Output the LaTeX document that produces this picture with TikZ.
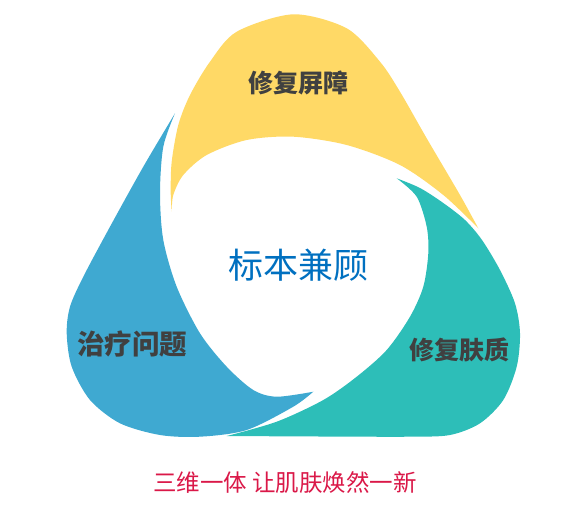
\documentclass[tikz,border=0pt]{standalone}
\usepackage{fontspec}
\newfontfamily\cjk{Noto Sans CJK SC}
\usepackage{tikz}
\definecolor{petalY}{RGB}{255,217,102}
\definecolor{petalT}{RGB}{45,190,184}
\definecolor{petalB}{RGB}{63,169,209}
\definecolor{labelgray}{RGB}{64,64,64}
\definecolor{centerblue}{RGB}{0,112,192}
\definecolor{captionred}{RGB}{218,24,72}
\tikzset{
  petal/.style={fill=#1, draw=none},
  plabel/.style={font=\cjk\bfseries\fontsize{#1}{#1}\selectfont, text=labelgray, inner sep=0pt},
  plabel/.default=25,
  clabel/.style={font=\cjk\fontsize{35}{35}\selectfont, text=centerblue, inner sep=0pt},
  caption/.style={font=\cjk\fontsize{23.5}{23.5}\selectfont, text=captionred, inner sep=0pt},
}

\begin{document}
\begin{tikzpicture}[x=1pt,y=-1pt]
  \useasboundingbox (0,0) rectangle (571,504);
  % top petal
  \fill[petal=petalY] plot[smooth] coordinates {(171.7,211.7) (170.7,191.7) (171.7,161.7) (178.3,125) (190,95) (210,61.7) (236.7,31.7) (293.3,14.3) (346.7,28.3) (380,61.7) (400,91.7) (426.7,138.3) (460,195) (478.3,228.3)}
    -- plot[smooth] coordinates {(478.3,228.3) (443.3,195) (400,165) (346.7,145) (293.3,136.7) (246.7,140) (206.7,155) (183.3,175) (173.3,195) (171.7,211.7)} -- cycle;
  % right petal
  \fill[petal=petalT] plot[smooth] coordinates {(396.7,178.3) (420,188) (443.3,203) (465,220) (482,240) (500,270) (515,303.3) (520,333.3) (516.7,366.7) (503.3,400) (480,423.3) (450,435) (410,436.7) (320,436.5) (226.7,436)}
    -- plot[smooth] coordinates {(226.7,436) (276.7,421.7) (323.3,400) (356.7,376.7) (386.7,350) (410,316.7) (423.3,286.7) (428.3,253.3) (426.7,226.7) (416.7,196.7) (396.7,178.3)} -- cycle;
  % left petal
  \fill[petal=petalB] plot[smooth] coordinates {(175,113.3) (143.3,166.7) (110,226.7) (83.3,276.7) (70,306.7) (66.7,333.3) (71.7,366.7) (90,400) (120,423.3) (160,435) (200,436.7) (246.7,430) (293.3,406.7) (313.3,391.7)}
    -- plot[smooth] coordinates {(313.3,391.7) (276.7,396.7) (253.3,390) (226.7,366.7) (200,333.3) (176.7,286.7) (163.3,240) (160,193.3) (163.3,146.7) (175,113.3)} -- cycle;
  % labels
  \node[plabel] (barrier) at (298,82.5) {修复屏障};
  \node[plabel] (texture) at (459.5,350) {修复肤质};
  \node[plabel=27.5] (problem) at (132.5,344) {治疗问题};
  \node[clabel] (center) at (298,265) {标本兼顾};
  \node[caption] (slogan) at (285,483) {三维一体 让肌肤焕然一新};
\end{tikzpicture}
\end{document}
